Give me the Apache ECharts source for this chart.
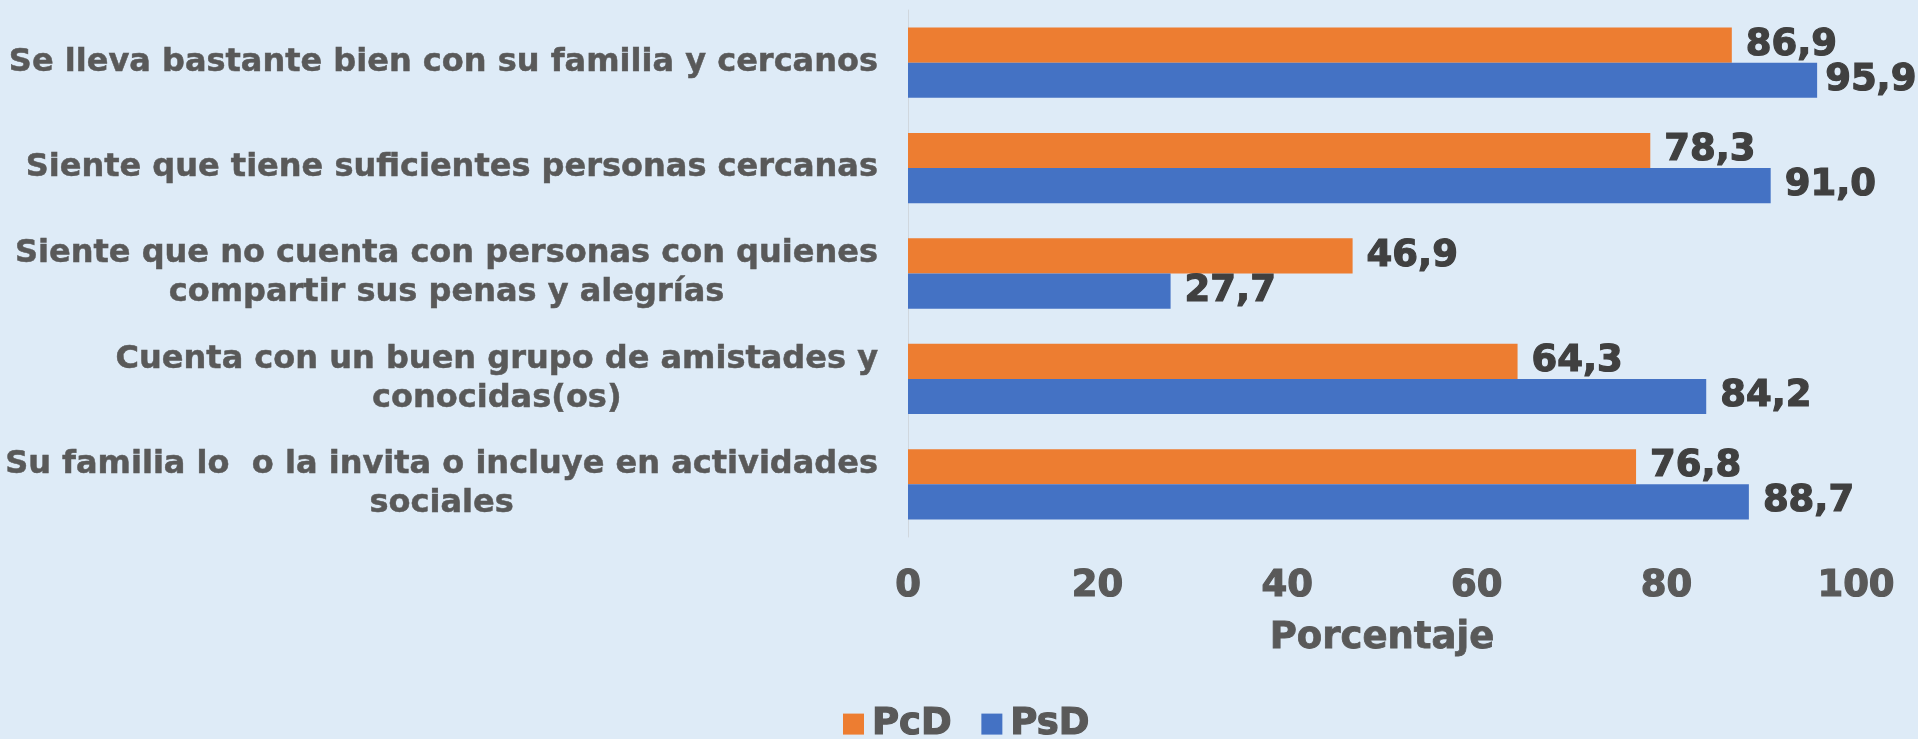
<!DOCTYPE html>
<html>
<head>
<meta charset="utf-8">
<script src="https://cdn.jsdelivr.net/npm/echarts@6/dist/echarts.min.js"></script>
<style>
  html, body { margin: 0; padding: 0; background: #DEEBF7; }
  #chart { width: 1918px; height: 739px; }
</style>
</head>
<body>
<div id="chart"></div>
<script>
const categories = [
  'Se lleva bastante bien con su familia y cercanos',
  'Siente que tiene suficientes personas cercanas',
  'Siente que no cuenta con personas con quienes\ncompartir sus penas y alegrías',
  'Cuenta con un buen grupo de amistades y\nconocidas(os)',
  'Su familia lo  o la invita o incluye en actividades\nsociales',
]
const pcdValues = [86.9, 78.3, 46.9, 64.3, 76.8]
const psdValues = [95.9, 91.0, 27.7, 84.2, 88.7]
const seriesNames = ['PcD', 'PsD']

const FONT = "'DejaVu Sans', Verdana, sans-serif"
const GREY = '#595959'
const fmt = (v) => v.toFixed(1).replace('.', ',')

// bold text with a thin outline of the same colour, closer to the heavy Verdana look
const heavy = (color, size, border = 1.2) => ({
  color,
  fontFamily: FONT,
  fontWeight: 'bold',
  fontSize: size,
  textBorderColor: color,
  textBorderWidth: border,
})

const chart = echarts.init(document.getElementById('chart'))

const labelStyle = {
  show: true,
  position: 'right',
  distance: 14,
  ...heavy('#404040', 37),
  formatter: (p) => fmt(p.value),
}

// Excel pulls a label back in when it would run off the plot
const fitLabels = (vals) =>
  vals.map((v) => (v > 95 ? { value: v, label: { distance: 8 } } : v))

chart.setOption({
  backgroundColor: '#DEEBF7',
  animation: false,
  grid: { left: 908, right: 62, top: 10, bottom: 202, outerBoundsMode: 'none', containLabel: false },
  legend: {
    data: seriesNames,
    left: 843,
    top: 705,
    padding: 0,
    itemWidth: 21,
    itemHeight: 21,
    itemGap: 29,
    icon: 'rect',
    textStyle: { ...heavy(GREY, 37), padding: [0, 0, 0, 3] },
  },
  xAxis: {
    type: 'value',
    min: 0,
    max: 100,
    interval: 20,
    name: 'Porcentaje',
    nameLocation: 'middle',
    nameGap: 83,
    nameTextStyle: heavy(GREY, 37, 0.8),
    axisLine: { show: false },
    axisTick: { show: false },
    splitLine: { show: false },
    axisLabel: { ...heavy(GREY, 37), margin: 31 },
  },
  yAxis: {
    type: 'category',
    inverse: true,
    data: categories,
    axisLine: { show: true, lineStyle: { color: '#D0D7DE', width: 1 } },
    axisTick: { show: false },
    axisLabel: {
      margin: 30,
      align: 'right',
      formatter: (v) => v.split('\n').map((l) => '{c|' + l + '}').join('\n'),
      rich: {
        c: { align: 'center', ...heavy(GREY, 32, 0.5), lineHeight: 39 },
      },
    },
  },
  series: [
    {
      name: seriesNames[0],
      type: 'bar',
      data: fitLabels(pcdValues),
      barGap: '0%',
      barCategoryGap: '33.3%',
      itemStyle: { color: '#ED7D31' },
      label: labelStyle,
    },
    {
      name: seriesNames[1],
      type: 'bar',
      data: fitLabels(psdValues),
      barGap: '0%',
      barCategoryGap: '33.3%',
      itemStyle: { color: '#4472C4' },
      label: labelStyle,
    },
  ],
})
</script>
</body>
</html>
